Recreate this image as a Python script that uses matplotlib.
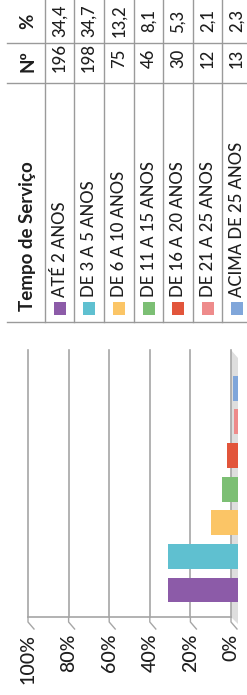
import matplotlib
matplotlib.use('Agg')
import matplotlib.pyplot as plt
import matplotlib.transforms as mtransforms
from matplotlib.lines import Line2D
from matplotlib.patches import Polygon, Rectangle

plt.rcParams['font.family'] = ['Lato', 'DejaVu Sans']

# data
categories = ['ATÉ 2 ANOS', 'DE 3 A 5 ANOS', 'DE 6 A 10 ANOS', 'DE 11 A 15 ANOS',
              'DE 16 A 20 ANOS', 'DE 21 A 25 ANOS', 'ACIMA DE 25 ANOS']
counts = [196, 198, 75, 46, 30, 12, 13]
percents = [34.4, 34.7, 13.2, 8.1, 5.3, 2.1, 2.3]
colors = ['#8c5ba8', '#5fc0d0', '#fbc566', '#7cbf74', '#e2553b', '#ee8b8b', '#80a6da']
ticks = [0, 20, 40, 60, 80, 100]
tick_labels = ['0%', '20%', '40%', '60%', '80%', '100%']

W, H = 247, 695
fig = plt.figure(figsize=(W / 100, H / 100), dpi=100)
fig.patch.set_facecolor('white')

# overlay axes in image pixel coords (y down) for the table and decorations
tax = fig.add_axes([0, 0, 1, 1])
tax.set_xlim(0, W)
tax.set_ylim(H, 0)
tax.axis('off')

line_col = '#9a9a9a'
txt_col = '#1e1e1e'
wt = 'medium'

# ---- table (rotated 90 deg) ----
row_edges = [45, 74, 104, 134, 163, 193, 222, 252]
for x in row_edges[:-1]:
    tax.add_line(Line2D([x, x], [0, 322], color=line_col, lw=1))
for y in [43, 83, 322]:
    tax.add_line(Line2D([7, W], [y, y], color=line_col, lw=1))

tax.text(28, 311, 'Tempo de Serviço', rotation=90, ha='center', va='bottom',
         fontsize=13.5, fontweight='bold', color=txt_col)
tax.text(28, 61, 'Nº', rotation=90, ha='center', va='center',
         fontsize=13.5, fontweight='bold', color=txt_col)
tax.text(28, 21, '%', rotation=90, ha='center', va='center',
         fontsize=13.5, fontweight='bold', color=txt_col)

for i, (lab, n, p, c) in enumerate(zip(categories, counts, percents, colors)):
    xc = (row_edges[i] + row_edges[i + 1]) / 2
    tax.add_patch(Rectangle((xc - 6, 302), 12, 13, color=c, lw=0))
    tax.text(xc, 297, lab, rotation=90, ha='center', va='bottom',
             fontsize=12, fontweight=wt, color=txt_col)
    tax.text(xc, 58, str(n), rotation=90, ha='center', va='center',
             fontsize=12, fontweight=wt, color=txt_col)
    tax.text(xc, 21, f'{p:.1f}'.replace('.', ','), rotation=90, ha='center',
             va='center', fontsize=12, fontweight=wt, color=txt_col)

# side wall of the 3D chart
tax.add_patch(Polygon([(231, 350), (238, 358), (238, 624), (231, 617)],
                      closed=True, color='#dedede', lw=0))

# ---- chart (rotated column chart drawn as horizontal bars) ----
ax = fig.add_axes([28 / W, (H - 617) / H, 203 / W, 267 / H])
ax.patch.set_alpha(0)
ax.set_xlim(100, 0)
ylim = (-0.804, 7.14)
ax.set_ylim(*ylim)

front = mtransforms.offset_copy(ax.transData, fig=fig, x=7, y=0, units='dots')
ypos = list(range(len(percents)))
ax.barh(ypos, percents, height=0.74, color=colors, transform=front,
        clip_on=False, zorder=3)

ax.set_xticks(ticks)
ax.set_xticklabels(tick_labels, rotation=90, fontsize=14, fontweight=wt,
                   color=txt_col)
ax.tick_params(axis='x', length=0, pad=12)
ax.set_yticks([])
ax.grid(axis='x', color='#a6a6a6', lw=1.2)
ax.set_axisbelow(True)
for gl in ax.get_xgridlines():
    gl.set_clip_on(False)
for s in ['top', 'left', 'right']:
    ax.spines[s].set_visible(False)
ax.spines['bottom'].set_color('#a6a6a6')
ax.spines['bottom'].set_linewidth(1.2)

# bent floor ticks
for g in ticks:
    x0, y0 = ax.transData.transform((g, ylim[0]))
    fig.add_artist(Line2D([x0, x0, x0 + 6], [y0, y0 - 5, y0 - 12],
                          transform=mtransforms.IdentityTransform(),
                          color='#a6a6a6', lw=1))

fig.savefig('out.png', dpi=100)
plt.close(fig)
